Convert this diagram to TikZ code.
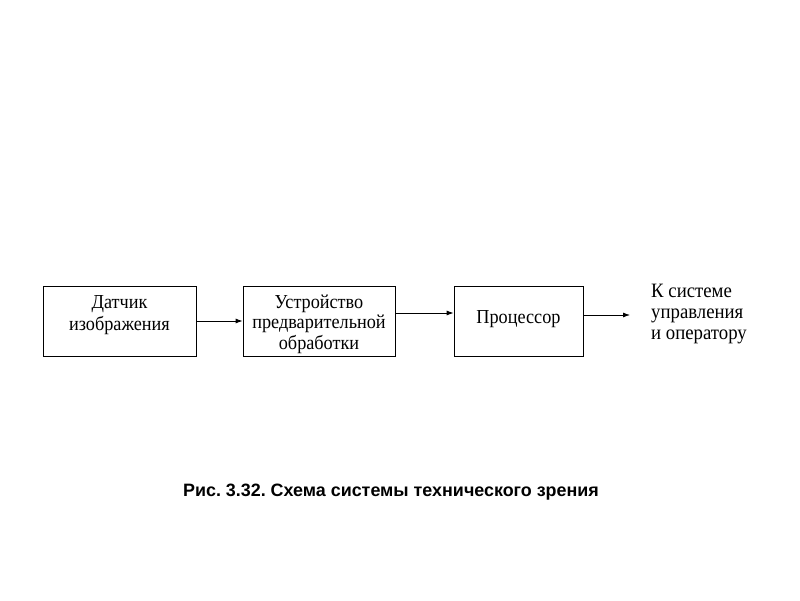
\documentclass[tikz,border=0pt]{standalone}
\usepackage{fontspec}
\setmainfont{Liberation Serif}[FakeStretch=0.92]
\newfontfamily\capfont{Liberation Sans}
\usetikzlibrary{arrows.meta}
\frenchspacing
\begin{document}
\begin{tikzpicture}[x=1pt,y=1pt,
  blk/.style={draw, line width=0.8pt, inner sep=0pt, align=center, font=\fontsize{19.8}{20.5}\selectfont},
  arr/.style={-{Latex[length=7pt,width=5pt]}, line width=0.8pt}]
\useasboundingbox (0,0) rectangle (800,600);
\node[blk, minimum width=153, minimum height=70] (b1) at (119.5,279) {};
\node[blk, minimum width=152, minimum height=70] (b2) at (319,279) {};
\node[blk, minimum width=129, minimum height=70] (b3) at (518.5,279) {};
\node[blk, draw=none, font=\fontsize{19.8}{21.5}\selectfont] (t1) at (119.5,285) {Датчик\\изображения};
\node[blk, draw=none] (t2) at (319,276) {Устройство\\предварительной\\обработки};
\node[blk, draw=none] (t3) at (518.5,281) {Процессор};
\node[align=left, anchor=west, inner sep=0pt, font=\fontsize{20.4}{21}\selectfont] (out) at (651,286) {К системе\\управления\\и оператору};
\coordinate (o) at (630,285);
\draw[arr] (b1.east |- 0,279) -- (b2.west |- 0,279);
\draw[arr] (b2.east |- 0,287) -- (b3.west |- 0,287);
\draw[arr] (b3.east |- 0,285) -- (o);
\node[font=\capfont\bfseries\fontsize{17.9}{20}\selectfont] (cap) at (391,108) {Рис. 3.32. Схема системы технического зрения};
\end{tikzpicture}
\end{document}
